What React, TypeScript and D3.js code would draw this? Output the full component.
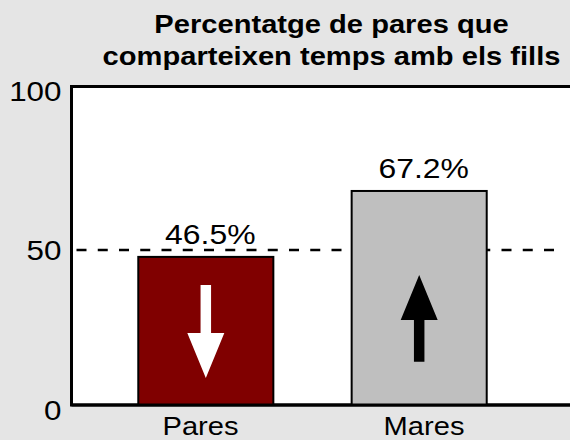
import React from "react";
import * as d3 from "d3";

const titleLines = ["Percentatge de pares que", "comparteixen temps amb els fills"];
const categories = ["Pares", "Mares"];
const values = [46.5, 67.2];
const valueLabels = ["46.5%", "67.2%"];
const barColors = ["#800000", "#bfbfbf"];
const yTicks = [0, 50, 100];
const referenceLevel = 48.7;
// arrow per category: [tail value, tip value]
const arrowTails = [37.7, 13.6];
const arrowTips = [8.5, 40.8];
const arrowColors = ["#ffffff", "#000000"];

const W = 570;
const H = 440;
const frameLeft = 71.5;
const frameRight = 600;
const font = "'Liberation Sans', Arial, Helvetica, sans-serif";
const stretch = 1.12;

export default function App() {
  const y = d3.scaleLinear().domain([0, 100]).range([405, 86.5]);
  const x = d3
    .scaleBand<string>()
    .domain(categories)
    .range([frameLeft, 553.5])
    .paddingInner(0.367)
    .paddingOuter(0.313);
  const xLabel = d3.scalePoint<string>().domain(categories).range([200.5, 424]);

  const headLen = 45;
  const headHalf = 18.5;
  const shaftHalf = 5.25;

  const arrowPath = (cx: number, tail: number, tip: number) => {
    const dir = tip > tail ? 1 : -1;
    const base = tip - dir * headLen;
    const p = d3.path();
    p.moveTo(cx - shaftHalf, tail);
    p.lineTo(cx - shaftHalf, base);
    p.lineTo(cx - headHalf, base);
    p.lineTo(cx, tip);
    p.lineTo(cx + headHalf, base);
    p.lineTo(cx + shaftHalf, base);
    p.lineTo(cx + shaftHalf, tail);
    p.closePath();
    return p.toString();
  };

  const st = (tx: number, ty: number) => `translate(${tx},${ty}) scale(${stretch},1)`;

  return (
    <svg
      width={W}
      height={H}
      style={{ position: "absolute", left: 0, top: 0, display: "block" }}
      fontFamily={font}
    >
      <rect x={0} y={0} width={W} height={H} fill="#e5e5e5" />
      {titleLines.map((t, i) => (
        <text
          key={t}
          transform={st(331.5, 33 + i * 31.5)}
          textAnchor="middle"
          fontWeight="bold"
          fontSize={26}
          fill="#000"
        >
          {t}
        </text>
      ))}
      <rect
        x={frameLeft}
        y={y(100)}
        width={frameRight - frameLeft}
        height={y(0) - y(100)}
        fill="#ffffff"
        stroke="#000"
        strokeWidth={3}
      />
      <line
        x1={frameLeft + 5}
        x2={556}
        y1={y(referenceLevel)}
        y2={y(referenceLevel)}
        stroke="#000"
        strokeWidth={2.5}
        strokeDasharray="10 11.25"
      />
      {categories.map((c, i) => (
        <g key={c}>
          <rect
            x={x(c)!}
            y={y(values[i])}
            width={x.bandwidth()}
            height={y(0) - y(values[i])}
            fill={barColors[i]}
            stroke="#000"
            strokeWidth={2}
          />
          <path
            d={arrowPath(x(c)! + x.bandwidth() / 2, y(arrowTails[i]), y(arrowTips[i]))}
            fill={arrowColors[i]}
          />
          <text
            transform={st(x(c)! + x.bandwidth() / 2 + 4.5, y(values[i]) - 13)}
            textAnchor="middle"
            fontSize={28.5}
            fill="#000"
          >
            {valueLabels[i]}
          </text>
          <text
            transform={st(xLabel(c)!, 435)}
            textAnchor="middle"
            fontSize={26}
            fill="#000"
          >
            {c}
          </text>
        </g>
      ))}
      <line x1={frameLeft} x2={frameRight} y1={y(0)} y2={y(0)} stroke="#000" strokeWidth={3} />
      {yTicks.map((t) => (
        <text
          key={t}
          transform={st(61.5, y(t) + 14.5)}
          textAnchor="end"
          fontSize={28}
          fill="#000"
        >
          {t}
        </text>
      ))}
    </svg>
  );
}
